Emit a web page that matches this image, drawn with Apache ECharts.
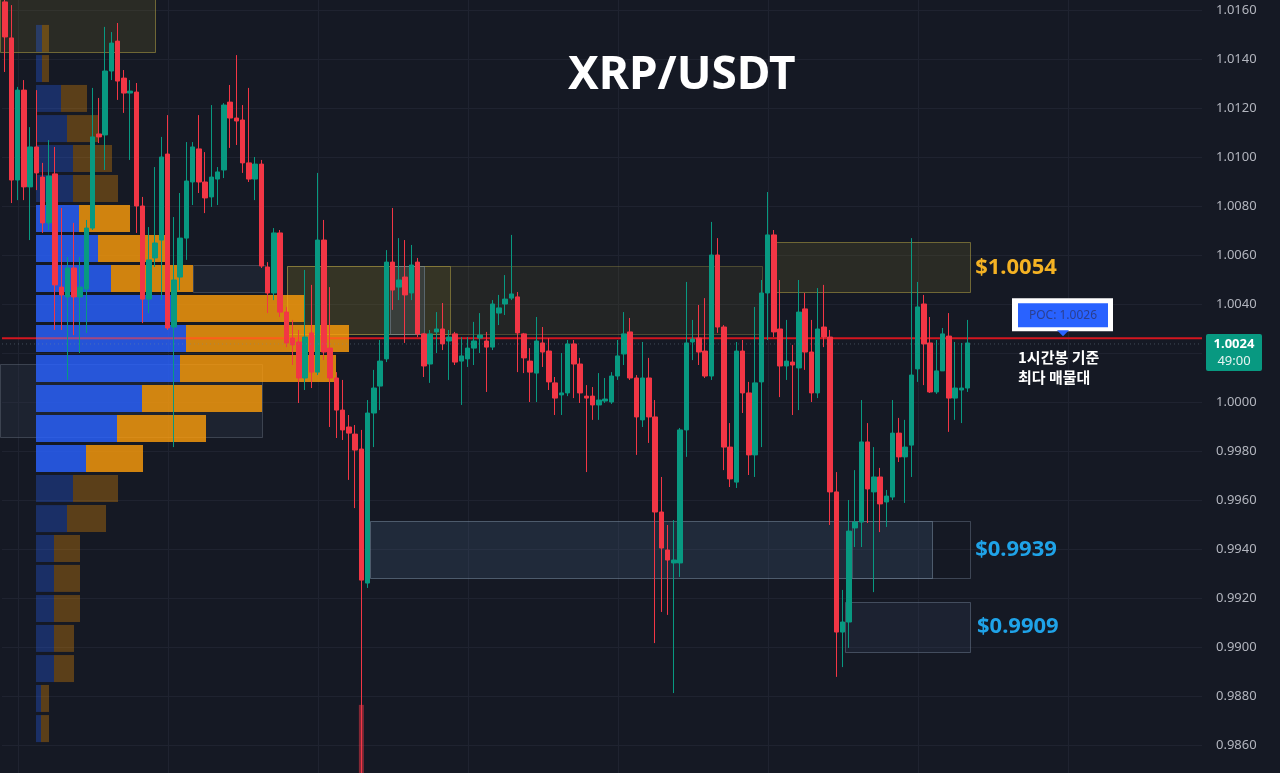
<!DOCTYPE html>
<html>
<head>
<meta charset="utf-8">
<script src="https://cdn.jsdelivr.net/npm/echarts@6/dist/echarts.min.js"></script>
<style>
html,body{margin:0;padding:0;background:#151924;}
#c{width:1280px;height:773px;}
</style>
</head>
<body>
<div id="c"></div>
<script>
// ---------- DATA ----------
// 155 candles (1h), then empty slots on the right side of the chart
const candleOpen = [1.01633,1.01486,1.00906,1.01273,1.00878,1.01041,1.00918,1.00731,1.00931,1.00469,1.00429,1.00547,1.00429,1.00461,1.00710,1.01094,1.01090,1.01351,1.01473,1.01322,1.01261,1.01265,1.00800,1.00420,1.00588,1.00661,1.01012,1.00306,1.00510,1.00669,1.00898,1.01033,1.00898,1.00837,1.00910,1.00947,1.01224,1.01159,1.01151,1.00976,1.00910,1.00971,1.00551,1.00445,1.00690,1.00367,1.00261,1.00245,1.00098,1.00282,1.00122,1.00661,1.00220,1.00098,0.99967,0.99898,0.99869,0.99808,0.99261,0.99955,1.00065,1.00176,1.00571,1.00469,1.00510,1.00445,1.00571,1.00278,1.00155,1.00286,1.00298,1.00249,1.00278,1.00167,1.00176,1.00220,1.00261,1.00249,1.00224,1.00363,1.00400,1.00424,1.00429,1.00278,1.00167,1.00118,1.00241,1.00208,1.00078,1.00029,1.00037,1.00237,1.00155,1.00024,1.00024,0.99988,1.00004,1.00000,1.00106,1.00196,1.00286,1.00098,0.99927,1.00098,0.99939,0.99551,0.99396,0.99343,0.99343,0.99886,1.00245,1.00261,1.00208,1.00106,1.00600,1.00306,0.99816,0.99673,1.00208,1.00037,0.99784,1.00082,1.00445,1.00682,1.00298,1.00147,1.00163,1.00139,1.00380,1.00204,1.00037,1.00306,1.00265,0.99633,0.99061,0.99102,0.99486,0.99510,0.99837,0.99633,0.99694,0.99592,0.99612,0.99873,0.99776,0.99824,1.00135,1.00400,1.00241,1.00041,1.00127,1.00269,1.00016,1.00049,1.00057];
const candleClose = [1.01490,1.00906,1.01273,1.00878,1.01041,1.00935,1.00731,1.00922,1.00478,1.00437,1.00547,1.00429,1.00469,1.00710,1.01082,1.01082,1.01351,1.01465,1.01310,1.01261,1.01269,1.00800,1.00420,1.00580,1.00649,1.01000,1.00302,1.00498,1.00669,1.00902,1.01041,1.00898,1.00833,1.00918,1.00939,1.01212,1.01159,1.01147,1.00976,1.00910,1.00971,1.00555,1.00445,1.00690,1.00367,1.00241,1.00233,1.00098,1.00265,1.00122,1.00661,1.00204,1.00098,0.99967,0.99886,0.99873,0.99804,0.99273,0.99955,1.00057,1.00167,1.00571,1.00457,1.00498,1.00437,1.00559,1.00278,1.00147,1.00278,1.00298,1.00237,1.00265,1.00163,1.00188,1.00220,1.00249,1.00273,1.00224,1.00400,1.00384,1.00420,1.00441,1.00282,1.00180,1.00122,1.00249,1.00204,1.00082,1.00016,1.00037,1.00237,1.00155,1.00037,1.00016,0.99988,1.00008,1.00012,1.00106,1.00188,1.00278,1.00098,0.99939,1.00098,0.99939,0.99551,0.99404,0.99355,0.99355,0.99886,1.00241,1.00257,1.00204,1.00106,1.00600,1.00306,0.99816,0.99686,1.00208,1.00037,0.99784,1.00078,1.00445,1.00682,1.00286,1.00147,1.00167,1.00151,1.00367,1.00204,1.00037,1.00298,1.00265,0.99633,0.99061,0.99102,0.99473,0.99510,0.99837,0.99645,0.99694,0.99584,0.99616,0.99873,0.99776,0.99816,1.00110,1.00388,1.00237,1.00041,1.00127,1.00278,1.00016,1.00057,1.00057,1.00241];
const candleLow = [1.01347,1.00812,1.00824,1.00824,1.00661,1.00865,1.00690,1.00702,1.00294,1.00294,1.00090,1.00273,1.00200,1.00282,1.00702,1.01057,1.00947,1.01314,1.01233,1.01180,1.00988,1.00690,1.00322,1.00363,1.00551,1.00416,1.00294,0.99816,1.00457,1.00580,1.00804,1.00853,1.00771,1.00796,1.00804,1.00914,1.01037,1.01049,1.00935,1.00898,1.00824,1.00547,1.00363,1.00416,1.00347,1.00224,1.00151,0.99996,1.00049,1.00057,1.00110,1.00171,0.99898,0.99853,0.99845,0.99682,0.99567,0.98400,0.99241,0.99816,0.99967,1.00163,1.00376,1.00416,1.00241,1.00416,1.00265,1.00102,1.00078,1.00200,1.00212,1.00090,1.00151,0.99988,1.00143,1.00151,1.00200,1.00041,1.00212,1.00314,1.00355,1.00416,1.00122,1.00118,1.00000,1.00000,1.00143,1.00049,0.99947,0.99947,1.00024,1.00016,0.99996,0.99714,0.99927,0.99927,0.99996,0.99992,1.00090,1.00151,1.00090,0.99784,0.99898,0.99833,0.99016,0.99143,0.99131,0.98812,0.99286,0.99776,1.00171,1.00151,1.00098,1.00090,1.00282,0.99722,0.99653,0.99649,0.99955,0.99702,0.99694,0.99816,1.00253,1.00265,1.00020,1.00090,0.99947,0.99967,1.00131,1.00000,1.00016,1.00224,0.99498,0.98878,0.98918,0.98996,0.99408,0.99408,0.99506,0.99224,0.99469,0.99490,0.99600,0.99755,0.99588,0.99694,1.00082,1.00069,1.00037,1.00033,1.00184,0.99878,0.99927,0.99914,1.00041];
const candleHigh = [1.01641,1.01620,1.01286,1.01314,1.01122,1.01273,1.00976,1.01069,1.01041,1.00792,1.00592,1.00731,1.00592,1.00743,1.01282,1.01241,1.01531,1.01510,1.01547,1.01355,1.01314,1.01302,1.00837,1.00714,1.00959,1.01082,1.01171,1.00755,1.00853,1.01061,1.01061,1.01171,1.01020,1.01212,1.00959,1.01220,1.01294,1.01416,1.01212,1.01282,1.01000,1.00988,1.00571,1.00710,1.00702,1.00388,1.00335,1.00294,1.00539,1.00478,1.00935,1.00743,1.00469,1.00122,1.00090,0.99947,0.99906,0.99886,1.00008,1.00131,1.00253,1.00620,1.00792,1.00669,1.00661,1.00641,1.00588,1.00282,1.00294,1.00367,1.00404,1.00294,1.00286,1.00265,1.00265,1.00327,1.00363,1.00286,1.00416,1.00437,1.00518,1.00682,1.00449,1.00282,1.00220,1.00347,1.00306,1.00261,1.00102,1.00200,1.00253,1.00253,1.00180,1.00069,1.00061,1.00118,1.00098,1.00122,1.00253,1.00367,1.00343,1.00110,1.00245,1.00180,1.00008,0.99694,0.99498,0.99518,0.99894,1.00490,1.00335,1.00396,1.00424,1.00735,1.00669,1.00314,0.99914,1.00245,1.00253,1.00082,1.00388,1.00498,1.00857,1.00702,1.00498,1.00335,1.00233,1.00498,1.00445,1.00335,1.00465,1.00478,1.00294,0.99714,0.99233,0.99600,0.99722,1.00008,0.99914,0.99816,0.99731,0.99641,1.00008,0.99935,0.99927,1.00669,1.00490,1.00437,1.00347,1.00253,1.00302,1.00363,1.00245,1.00241,1.00335];
const slotCount = 192;
const categories = Array.from({length: slotCount}, (_, i) => 'H' + i);

// only the visible volume bar (the capitulation candle)
const volumeSpikes = [[57, 10.7]];

// visible-range volume profile (24 rows)
const rowStep = 0.0012245;
const profilePrice = [1.01484,1.01361,1.01239,1.01116,1.00994,1.00871,1.00749,1.00627,1.00504,1.00382,1.00259,1.00137,1.00014,0.99892,0.99769,0.99647,0.99524,0.99402,0.99280,0.99157,0.99035,0.98912,0.98790,0.98667];
const profileUp   = [6,6,25,31,37,37,43,62,75,140,150,144,106,81,50,37,31,18,18,18,18,18,5,5];
const profileDown = [7,7,26,31,39,45,51,67,82,129,163,156,120,89,57,45,39,26,26,26,20,20,8,8];
const valueAreaHigh = 1.0081;
const valueAreaLow = 0.9971;

const pocPrice = 1.0026;
const pocLabelSlot = 169.26;
const dayLines = [2, 26, 50, 74, 98, 122, 146, 170];

// [startSlot, endSlot, topPrice, bottomPrice, style]
const zones = [
  [-0.8, 23.98, 1.0170, 1.01430, 'olive'],
  [45.1, 121.1, 1.00555, 1.00276, 'oliveDim'],
  [45.1, 71.2, 1.00555, 1.00276, 'olive'],
  [61.6, 67.0, 1.00555, 1.00276, 'slate'],
  [123.2, 154.4, 1.00653, 1.00447, 'olive'],
  [58.4, 148.3, 0.99514, 0.99280, 'slate'],
  [135.5, 154.4, 0.99514, 0.99280, 'outline'],
  [134.4, 154.4, 0.99184, 0.98980, 'slateDim'],
  [-0.8, 41.1, 1.00155, 0.99857, 'gray'],
  [30.06, 41.6, 1.00559, 1.00449, 'gray']
];
// [slot, price, text, colour key]
const zoneLabels = [
  [154.4, 1.00550, '$1.0054', 'gold'],
  [154.4, 0.99397, '$0.9939', 'blue'],
  [154.7, 0.99082, '$0.9909', 'blue']
];
const countdown = '49:00';

// ---------- STYLES ----------
const UP = '#089981', DOWN = '#f23645';
const zoneStyle = {
  olive:    {fill: 'rgba(120,110,40,0.22)', stroke: 'rgba(165,150,65,0.6)'},
  oliveDim: {fill: 'rgba(110,105,45,0.16)', stroke: 'rgba(150,140,70,0.4)'},
  slate:    {fill: 'rgba(70,95,130,0.24)', stroke: 'rgba(120,140,160,0.55)'},
  slateDim: {fill: 'rgba(60,80,110,0.18)', stroke: 'rgba(110,125,145,0.5)'},
  outline:  {fill: 'rgba(0,0,0,0)', stroke: 'rgba(110,125,145,0.45)'},
  gray:     {fill: 'rgba(45,55,72,0.35)', stroke: 'rgba(95,105,120,0.5)'}
};
const labelColor = {gold: '#f4b223', blue: '#1fa3e8'};

const candleData = candleOpen.map((o, i) => [o, candleClose[i], candleLow[i], candleHigh[i]]);
const lastIdx = candleClose.length - 1;
const lastClose = candleClose[lastIdx];
let pocRow = 0;
profileUp.forEach((u, i) => { if (u + profileDown[i] > profileUp[pocRow] + profileDown[pocRow]) pocRow = i; });

const chart = echarts.init(document.getElementById('c'));
const gridPos = {top: -39, bottom: -21};

chart.setOption({
  animation: false,
  backgroundColor: '#151924',
  title: {
    text: 'XRP/USDT', left: 563, top: 48,
    textStyle: {color: '#ffffff', fontSize: 46, fontWeight: 'bold', fontFamily: 'Noto Sans'}
  },
  grid: [
    {left: 2, right: 78, top: gridPos.top, bottom: gridPos.bottom, containLabel: false, outerBoundsMode: 'none'},
    {left: 36, width: 1000, top: gridPos.top, bottom: gridPos.bottom, containLabel: false, outerBoundsMode: 'none'}
  ],
  xAxis: [
    {type: 'category', gridIndex: 0, data: categories, boundaryGap: true, show: false},
    {type: 'value', gridIndex: 1, min: 0, max: 1000, show: false},
    {type: 'value', gridIndex: 0, min: -0.5, max: slotCount - 0.5, show: false}
  ],
  yAxis: [
    {
      type: 'value', gridIndex: 0, position: 'right', min: 0.984, max: 1.018, interval: 0.002,
      axisLine: {show: false}, axisTick: {show: false},
      splitLine: {show: true, lineStyle: {color: '#1f2330', width: 1}},
      axisLabel: {color: '#b2b5be', fontSize: 13, fontFamily: 'Noto Sans', margin: 14,
        formatter: v => v.toFixed(4)}
    },
    {type: 'value', gridIndex: 1, min: 0.984, max: 1.018, show: false},
    {type: 'value', gridIndex: 0, min: 0, max: 100, show: false}
  ],
  series: [
    { // day separators
      type: 'custom', xAxisIndex: 2, yAxisIndex: 0, z: 0, silent: true,
      data: dayLines.map(d => [d, 1]), encode: {x: 0, y: 1},
      renderItem: (params, api) => {
        const x = Math.round(api.coord([api.value(0), api.value(1)])[0]) + 0.5;
        const cs = params.coordSys;
        return {type: 'line', shape: {x1: x, y1: cs.y, x2: x, y2: cs.y + cs.height},
          style: {stroke: '#1f2330', lineWidth: 1}};
      }
    },
    { // zones
      type: 'custom', xAxisIndex: 2, yAxisIndex: 0, z: 1, silent: true,
      data: zones.map(z => [z[0], z[1], z[2], z[3]]), encode: {x: [0, 1], y: [2, 3]},
      renderItem: (params, api) => {
        const a = api.coord([api.value(0), api.value(2)]);
        const b = api.coord([api.value(1), api.value(3)]);
        const st = zoneStyle[zones[params.dataIndex][4]];
        return {type: 'rect',
          shape: {x: Math.round(a[0]) + 0.5, y: Math.round(a[1]) + 0.5, width: Math.round(b[0] - a[0]), height: Math.round(b[1] - a[1])},
          style: {fill: st.fill, stroke: st.stroke, lineWidth: 1}};
      }
    },
    { // POC line
      type: 'custom', xAxisIndex: 2, yAxisIndex: 0, z: 2, silent: true,
      data: [[-0.5, pocPrice]], encode: {x: 0, y: 1},
      renderItem: (params, api) => {
        const y = api.coord([api.value(0), api.value(1)])[1];
        const cs = params.coordSys;
        return {type: 'line', shape: {x1: cs.x, y1: y, x2: cs.x + cs.width, y2: y},
          style: {stroke: '#d3161f', lineWidth: 2}};
      }
    },
    { // volume profile
      type: 'custom', xAxisIndex: 1, yAxisIndex: 1, z: 3, silent: true,
      data: profilePrice.map((p, i) => [profileUp[i], p, profileDown[i]]), encode: {x: 0, y: 1},
      renderItem: (params, api) => {
        const up = api.value(0), price = api.value(1), dn = api.value(2);
        const a = api.coord([0, price + rowStep * 0.45]);
        const b = api.coord([up, price - rowStep * 0.45]);
        const end = api.coord([up + dn, price])[0];
        const inVA = price <= valueAreaHigh && price >= valueAreaLow;
        const h = b[1] - a[1];
        const children = [
          {type: 'rect', shape: {x: a[0], y: a[1], width: b[0] - a[0], height: h},
            style: {fill: inVA ? 'rgba(41,98,255,0.82)' : 'rgba(41,98,255,0.3)'}},
          {type: 'rect', shape: {x: b[0], y: a[1], width: end - b[0], height: h},
            style: {fill: inVA ? 'rgba(255,157,10,0.8)' : 'rgba(255,152,0,0.3)'}}
        ];
        if (params.dataIndex === pocRow) {
          const yp = api.coord([0, pocPrice])[1];
          children.push({type: 'line', shape: {x1: a[0], y1: yp, x2: end, y2: yp},
            style: {stroke: 'rgba(255,60,40,0.5)', lineWidth: 2}});
        }
        return {type: 'group', children};
      }
    },
    { // visible volume bar
      type: 'bar', xAxisIndex: 0, yAxisIndex: 2, z: 3, silent: true,
      data: volumeSpikes, barWidth: 5,
      itemStyle: {color: 'rgba(242,54,69,0.5)'}
    },
    { // candles
      type: 'candlestick', xAxisIndex: 0, yAxisIndex: 0, z: 5, silent: true,
      data: candleData, barWidth: 5,
      itemStyle: {color: UP, color0: DOWN, borderColor: UP, borderColor0: DOWN, borderWidth: 1}
    },
    { // zone price labels
      type: 'custom', xAxisIndex: 2, yAxisIndex: 0, z: 6, silent: true,
      data: zoneLabels.map(l => [l[0], l[1]]), encode: {x: 0, y: 1},
      renderItem: (params, api) => {
        const p = api.coord([api.value(0), api.value(1)]);
        const l = zoneLabels[params.dataIndex];
        return {type: 'text', x: p[0] + 5, y: p[1],
          style: {text: l[2], fill: labelColor[l[3]], font: 'bold 22px "Noto Sans"',
            align: 'left', verticalAlign: 'middle', textAlign: 'left', textVerticalAlign: 'middle'}};
      }
    },
    { // POC callout
      type: 'custom', xAxisIndex: 2, yAxisIndex: 0, z: 7, silent: true,
      data: [[pocLabelSlot, pocPrice]], encode: {x: 0, y: 1},
      renderItem: (params, api) => {
        const p = api.coord([api.value(0), api.value(1)]);
        const x = p[0], y = p[1];
        return {type: 'group', children: [
          {type: 'rect', shape: {x: x - 51, y: y - 40, width: 101, height: 33}, style: {fill: '#ffffff'}},
          {type: 'rect', shape: {x: x - 45, y: y - 35, width: 90, height: 24}, style: {fill: '#2962ff'}},
          {type: 'polygon', shape: {points: [[x - 6, y - 8], [x + 6, y - 8], [x, y - 2]]}, style: {fill: '#2962ff'}},
          {type: 'text', x: x, y: y - 23, style: {text: 'POC: ' + pocPrice.toFixed(4), fill: '#2b3f8f',
            font: '12px "Noto Sans"', align: 'center', verticalAlign: 'middle', textAlign: 'center', textVerticalAlign: 'middle'}},
          {type: 'text', x: x - 45, y: y + 19, style: {text: '1시간봉 기준', fill: '#ffffff',
            font: 'bold 15px "Noto Sans CJK KR"', align: 'left', verticalAlign: 'middle', textAlign: 'left', textVerticalAlign: 'middle'}},
          {type: 'text', x: x - 45, y: y + 39, style: {text: '최다 매물대', fill: '#ffffff',
            font: 'bold 15px "Noto Sans CJK KR"', align: 'left', verticalAlign: 'middle', textAlign: 'left', textVerticalAlign: 'middle'}}
        ]};
      }
    },
    { // last price line + tag
      type: 'custom', xAxisIndex: 2, yAxisIndex: 0, z: 8, silent: true,
      data: [[lastIdx, lastClose]], encode: {x: 0, y: 1},
      renderItem: (params, api) => {
        const y = api.coord([api.value(0), api.value(1)])[1];
        const cs = params.coordSys;
        const r = cs.x + cs.width;
        return {type: 'group', children: [
          {type: 'line', shape: {x1: cs.x, y1: y + 1, x2: r, y2: y + 1},
            style: {stroke: 'rgba(120,140,150,0.45)', lineWidth: 1, lineDash: [1, 3]}},
          {type: 'rect', shape: {x: r + 4, y: y - 9, width: 56, height: 37, r: 2}, style: {fill: '#089981'}},
          {type: 'text', x: r + 32, y: y + 1, style: {text: api.value(1).toFixed(4), fill: '#ffffff',
            font: 'bold 13px "Noto Sans"', align: 'center', verticalAlign: 'middle', textAlign: 'center', textVerticalAlign: 'middle'}},
          {type: 'text', x: r + 32, y: y + 18, style: {text: countdown, fill: '#e6f4f1',
            font: '13px "Noto Sans"', align: 'center', verticalAlign: 'middle', textAlign: 'center', textVerticalAlign: 'middle'}}
        ]};
      }
    }
  ]
});
</script>
</body>
</html>
